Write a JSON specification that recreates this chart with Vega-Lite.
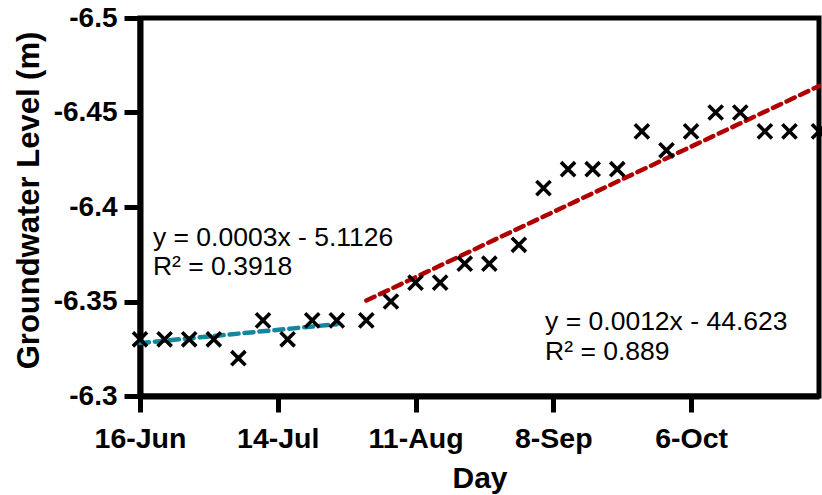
{
  "$schema": "https://vega.github.io/schema/vega-lite/v6.json",
  "autosize": {"type": "none"},
  "padding": {"left": 140, "top": 18, "right": 3, "bottom": 99},
  "width": 679,
  "height": 378,
  "background": "white",
  "config": {
    "font": "Liberation Sans",
    "view": {"stroke": "black", "strokeWidth": 5},
    "axis": {
      "domainColor": "black",
      "domainWidth": 6,
      "tickColor": "black",
      "tickWidth": 5,
      "tickSize": 16,
      "grid": false,
      "labelColor": "black",
      "labelFont": "Liberation Sans",
      "labelFontWeight": "bold",
      "titleFont": "Liberation Sans",
      "titleFontWeight": "bold",
      "titleColor": "black"
    }
  },
  "datasets": {
    "obs": [
      {"date": "2016-06-16T00:00:00", "level": -6.33},
      {"date": "2016-06-21T00:00:00", "level": -6.33},
      {"date": "2016-06-26T00:00:00", "level": -6.33},
      {"date": "2016-07-01T00:00:00", "level": -6.33},
      {"date": "2016-07-06T00:00:00", "level": -6.32},
      {"date": "2016-07-11T00:00:00", "level": -6.34},
      {"date": "2016-07-16T00:00:00", "level": -6.33},
      {"date": "2016-07-21T00:00:00", "level": -6.34},
      {"date": "2016-07-26T00:00:00", "level": -6.34},
      {"date": "2016-08-01T00:00:00", "level": -6.34},
      {"date": "2016-08-06T00:00:00", "level": -6.35},
      {"date": "2016-08-11T00:00:00", "level": -6.36},
      {"date": "2016-08-16T00:00:00", "level": -6.36},
      {"date": "2016-08-21T00:00:00", "level": -6.37},
      {"date": "2016-08-26T00:00:00", "level": -6.37},
      {"date": "2016-09-01T00:00:00", "level": -6.38},
      {"date": "2016-09-06T00:00:00", "level": -6.41},
      {"date": "2016-09-11T00:00:00", "level": -6.42},
      {"date": "2016-09-16T00:00:00", "level": -6.42},
      {"date": "2016-09-21T00:00:00", "level": -6.42},
      {"date": "2016-09-26T00:00:00", "level": -6.44},
      {"date": "2016-10-01T00:00:00", "level": -6.43},
      {"date": "2016-10-06T00:00:00", "level": -6.44},
      {"date": "2016-10-11T00:00:00", "level": -6.45},
      {"date": "2016-10-16T00:00:00", "level": -6.45},
      {"date": "2016-10-21T00:00:00", "level": -6.44},
      {"date": "2016-10-26T00:00:00", "level": -6.44},
      {"date": "2016-11-01T00:00:00", "level": -6.44}
    ],
    "trend": [
      {"series": "early", "date": "2016-06-16T00:00:00", "level": -6.328},
      {"series": "early", "date": "2016-07-26T00:00:00", "level": -6.338},
      {"series": "late", "date": "2016-08-01T00:00:00", "level": -6.3505},
      {"series": "late", "date": "2016-11-01T00:00:00", "level": -6.464}
    ],
    "notes": [
      {"date": "2016-06-18T15:00:00", "level": -6.3794, "label": "y = 0.0003x - 5.1126"},
      {"date": "2016-06-18T15:00:00", "level": -6.364, "label": "R² = 0.3918"},
      {"date": "2016-09-06T08:00:00", "level": -6.3349, "label": "y = 0.0012x - 44.623"},
      {"date": "2016-09-06T08:00:00", "level": -6.319, "label": "R² = 0.889"}
    ]
  },
  "encoding": {
    "x": {
      "field": "date",
      "type": "temporal",
      "scale": {
        "domain": [{"year": 2016, "month": 6, "date": 16}, {"year": 2016, "month": 11, "date": 1}],
        "nice": false
      },
      "axis": {
        "title": "Day",
        "format": "%-d-%b",
        "values": [
          {"year": 2016, "month": 6, "date": 16},
          {"year": 2016, "month": 7, "date": 14},
          {"year": 2016, "month": 8, "date": 11},
          {"year": 2016, "month": 9, "date": 8},
          {"year": 2016, "month": 10, "date": 6}
        ],
        "labelFontSize": 28.5,
        "labelPadding": 12,
        "labelFlush": false,
        "labelOverlap": false,
        "titleFontSize": 30,
        "titleY": 91,
        "titleBaseline": "alphabetic"
      }
    },
    "y": {
      "field": "level",
      "type": "quantitative",
      "scale": {"domain": [-6.5, -6.3], "reverse": true, "nice": false, "zero": false},
      "axis": {
        "title": "Groundwater Level (m)",
        "values": [-6.5, -6.45, -6.4, -6.35, -6.3],
        "labelExpr": "'-' + format(-datum.value, '.2~f')",
        "labelFontSize": 28,
        "labelPadding": 7,
        "titleFontSize": 31,
        "titleX": -102,
        "titleY": 182,
        "titleAngle": -90,
        "titleAlign": "center",
        "titleBaseline": "alphabetic"
      }
    }
  },
  "layer": [
    {
      "data": {"name": "trend"},
      "mark": {"type": "line", "strokeWidth": 4.5, "strokeDash": [9, 6], "strokeCap": "round"},
      "encoding": {
        "color": {
          "field": "series",
          "type": "nominal",
          "scale": {"domain": ["early", "late"], "range": ["#14869e", "#b00000"]},
          "legend": null
        },
        "detail": {"field": "series"}
      }
    },
    {
      "data": {"name": "obs"},
      "mark": {
        "type": "point",
        "shape": "M-1,-1L1,1M-1,1L1,-1",
        "size": 200,
        "filled": false,
        "stroke": "black",
        "strokeWidth": 3.6,
        "opacity": 1
      }
    },
    {
      "data": {"name": "notes"},
      "mark": {"type": "text", "align": "left", "baseline": "alphabetic", "fontSize": 26.5, "color": "black", "font": "Liberation Sans"},
      "encoding": {"text": {"field": "label"}}
    }
  ]
}
